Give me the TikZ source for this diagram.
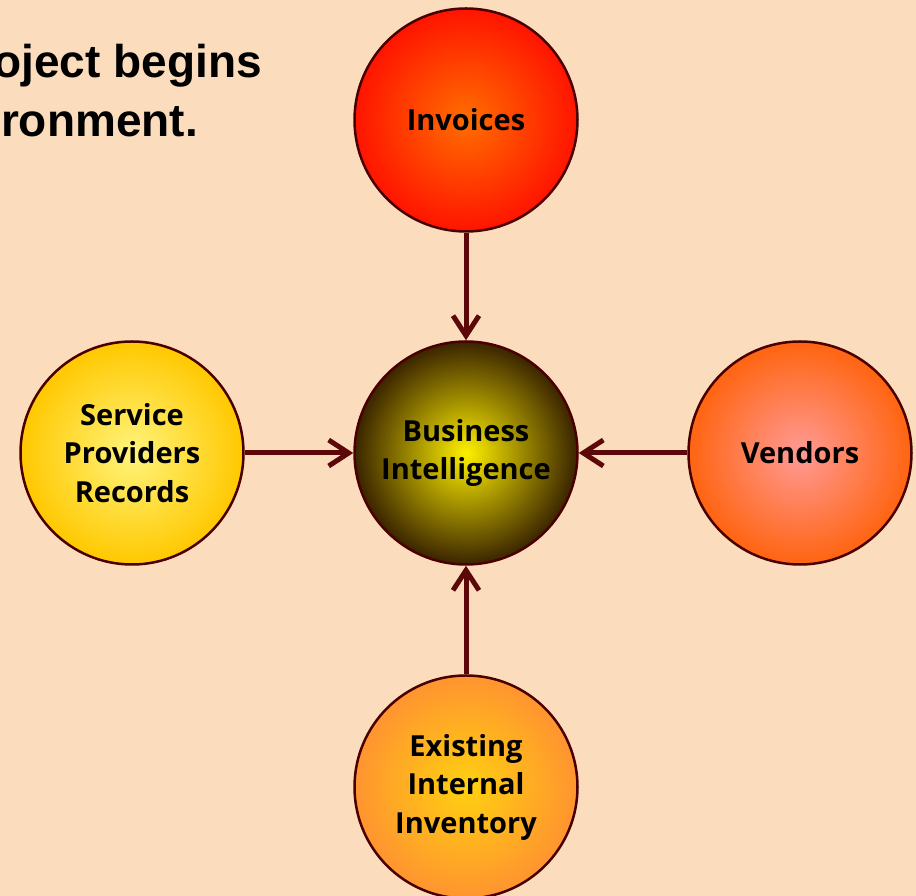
\documentclass[tikz,border=0pt]{standalone}
\usepackage{fontspec}
\setmainfont{Liberation Sans}
\newfontfamily\bubblefont{Open Sans}
\usetikzlibrary{arrows.meta}

\definecolor{peach}{HTML}{FBDDBD}
\definecolor{rimred}{HTML}{4A0000}
\definecolor{feedred}{HTML}{5C0808}
% centre and rim colours of the bubbles
\definecolor{invin}{HTML}{FF6E00}   \definecolor{invout}{HTML}{FF1400}
\definecolor{biin}{HTML}{FFF000}    \definecolor{biout}{HTML}{3A2400}
\definecolor{srvin}{HTML}{FFF47C}   \definecolor{srvout}{HTML}{FFC800}
\definecolor{venin}{HTML}{FF9A96}   \definecolor{venout}{HTML}{FF6410}
\definecolor{exiin}{HTML}{FFD010}   \definecolor{exiout}{HTML}{FF9430}

\tikzset{
    bubble/.style={circle, draw=rimred, line width=2.5pt, minimum size=223pt,
        inner sep=0pt, align=center,
        font=\bubblefont\bfseries\fontsize{29}{38.5}\selectfont},
    feed/.style={draw=feedred, line width=5pt,
        -{Straight Barb[length=20pt, width=26pt]}},
    headline/.style={anchor=base east, inner sep=0pt,
        font=\bfseries\fontsize{46}{55}\selectfont}
}

\begin{document}
\begin{tikzpicture}[x=1pt, y=1pt]
    \useasboundingbox (0,0) rectangle (916,896);
    \clip (0,0) rectangle (916,896);
    \fill[peach] (0,0) rectangle (916,896);

    \node[headline] (head1) at (262,818) {oject begins};
    \node[headline] (head2) at (198,759) {ronment.};

    \node[bubble, inner color=invin, outer color=invout] (inv) at (466,776) {Invoices};
    \node[bubble, inner color=biin, outer color=biout] (bi) at (466,443) {Business\\Intelligence};
    \node[bubble, inner color=srvin, outer color=srvout] (srv) at (132,443) {Service\\Providers\\Records};
    \node[bubble, inner color=venin, outer color=venout] (ven) at (800,443) {Vendors};
    \node[bubble, inner color=exiin, outer color=exiout] (exi) at (466,109) {Existing\\Internal\\Inventory};

    \draw[feed] (inv) -- (bi);
    \draw[feed] (srv) -- (bi);
    \draw[feed] (ven) -- (bi);
    \draw[feed] (exi) -- (bi);
\end{tikzpicture}
\end{document}
